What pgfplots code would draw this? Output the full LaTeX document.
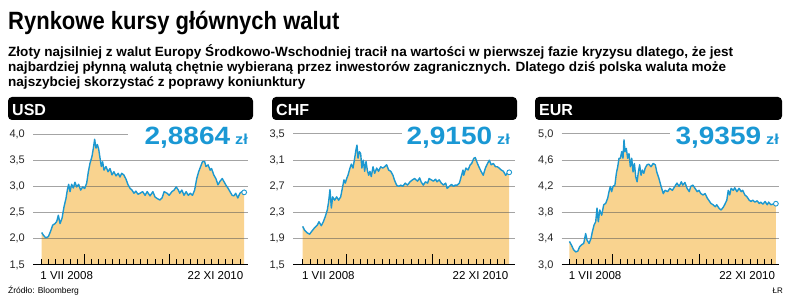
\documentclass[border=0pt]{standalone}
\usepackage{fontspec}
\setmainfont{Liberation Sans}
\newfontfamily\titlefont[FakeStretch=0.88]{Liberation Sans}
\newfontfamily\subfont[FakeStretch=1.01]{Liberation Sans}
\newfontfamily\numfont[FakeStretch=1.12]{Liberation Sans}
\usepackage{pgfplots}
\pgfplotsset{compat=1.18}
\usepackage{pgfplotstable}
\definecolor{lineblue}{RGB}{28,152,208}
\definecolor{fillor}{RGB}{249,211,143}
\definecolor{numblue}{RGB}{26,152,212}
\definecolor{gridc}{RGB}{90,90,90}

\pgfplotstableread{
m v
0 2.12
0.23 2.07
0.56 2.02
0.94 2.04
1.27 2.15
1.55 2.26
1.88 2.29
2.12 2.33
2.35 2.45
2.59 2.29
2.87 2.39
3.15 2.61
3.43 2.77
3.62 2.93
3.81 3.04
4.0 2.90
4.23 3.04
4.47 2.97
4.7 3.08
4.94 2.99
5.22 3.04
5.5 2.93
5.79 2.99
6.07 2.96
6.35 3.06
6.59 3.28
6.82 3.44
7.1 3.57
7.3 3.73
7.48 3.90
7.67 3.73
7.86 3.80
8.05 3.71
8.24 3.54
8.42 3.38
8.61 3.47
8.8 3.31
9.08 3.38
9.37 3.28
9.65 3.34
9.93 3.22
10.2 3.28
10.5 3.20
10.8 3.25
11.06 3.18
11.3 3.25
11.6 3.22
11.9 3.14
12.2 3.03
12.5 2.96
12.75 2.93
13.04 2.87
13.3 2.91
13.6 2.85
13.9 2.87
14.26 2.90
14.6 2.83
14.9 2.90
15.3 2.82
15.7 2.90
16.0 2.80
16.3 2.77
16.7 2.74
17.0 2.78
17.3 2.90
17.7 2.87
18.0 2.83
18.4 2.90
18.7 2.93
19.0 2.99
19.3 2.93
19.5 2.87
19.8 2.93
20.1 2.83
20.4 2.90
20.7 2.83
21.0 2.87
21.3 2.83
21.6 2.93
21.9 3.15
22.17 3.28
22.45 3.38
22.7 3.47
23.0 3.48
23.2 3.38
23.5 3.41
23.8 3.31
24.0 3.34
24.3 3.22
24.6 3.15
24.9 3.03
25.2 3.10
25.5 3.15
25.75 3.09
26.0 3.03
26.3 2.97
26.6 2.90
26.9 2.83
27.16 2.82
27.4 2.87
27.7 2.78
28.0 2.87
28.3 2.90
28.6 2.8864
}\usd

\pgfplotstableread{
m v
0 2.09
0.27 2.03
0.64 1.99
0.96 1.97
1.29 2.02
1.66 2.07
2.03 2.11
2.26 2.16
2.58 2.10
2.86 2.16
3.13 2.24
3.41 2.34
3.6 2.47
3.78 2.65
3.97 2.37
4.15 2.54
4.43 2.49
4.7 2.54
4.98 2.49
5.26 2.54
5.54 2.70
5.72 2.80
5.9 2.75
6.09 2.82
6.27 2.87
6.55 2.98
6.74 3.04
6.97 2.98
7.2 3.13
7.38 3.26
7.52 3.33
7.66 3.13
7.85 3.23
8.03 3.20
8.2 2.98
8.4 3.10
8.58 2.93
8.77 3.08
8.95 2.95
9.14 2.87
9.32 2.93
9.5 2.85
9.74 3.00
9.97 2.90
10.25 2.98
10.5 2.93
10.8 3.00
11.08 2.98
11.35 3.00
11.63 3.03
11.9 2.95
12.2 2.93
12.5 2.87
12.7 2.80
13.0 2.72
13.3 2.70
13.6 2.72
13.85 2.70
14.2 2.75
14.5 2.72
14.86 2.77
15.2 2.80
15.5 2.82
15.9 2.78
16.2 2.83
16.4 2.77
16.7 2.72
17.0 2.77
17.3 2.75
17.5 2.82
17.8 2.80
18.1 2.78
18.4 2.81
18.6 2.77
18.9 2.80
19.2 2.75
19.5 2.72
19.8 2.75
20.0 2.67
20.3 2.70
20.6 2.73
20.9 2.70
21.1 2.72
21.4 2.72
21.7 2.75
22.0 2.87
22.2 2.95
22.3 2.87
22.6 2.98
22.9 2.95
23.2 3.03
23.4 3.05
23.7 3.13
23.9 3.14
24.2 3.05
24.4 3.00
24.7 2.93
25.0 2.87
25.3 2.98
25.6 3.05
25.85 3.10
26.1 3.03
26.4 3.05
26.7 3.00
26.96 3.00
27.2 2.98
27.5 2.95
27.8 2.93
28.1 2.87
28.34 2.90
28.6 2.915
}\chf

\pgfplotstableread{
m v
0 3.36
0.3 3.30
0.59 3.23
0.87 3.20
1.15 3.21
1.42 3.28
1.7 3.31
1.98 3.33
2.25 3.48
2.44 3.38
2.72 3.33
3.0 3.41
3.18 3.51
3.41 3.61
3.64 3.66
3.82 3.87
4.0 3.66
4.2 3.84
4.47 3.76
4.75 3.92
5.02 3.94
5.3 4.02
5.48 4.12
5.67 4.20
5.85 4.12
6.04 4.20
6.3 4.22
6.5 4.40
6.69 4.50
6.87 4.63
7.06 4.63
7.24 4.73
7.42 4.63
7.56 4.91
7.7 4.73
7.88 4.78
8.07 4.63
8.25 4.70
8.44 4.50
8.63 4.63
8.81 4.42
9.0 4.55
9.18 4.35
9.37 4.27
9.55 4.42
9.73 4.53
9.92 4.37
10.1 4.45
10.3 4.40
10.5 4.48
10.75 4.53
11.0 4.54
11.3 4.50
11.6 4.55
11.9 4.53
12.1 4.42
12.4 4.32
12.7 4.20
13.0 4.09
13.24 4.14
13.6 4.12
13.9 4.17
14.26 4.14
14.6 4.20
14.9 4.25
15.2 4.20
15.5 4.27
15.7 4.22
16.0 4.26
16.3 4.17
16.6 4.12
16.8 4.20
17.1 4.22
17.4 4.17
17.7 4.12
17.95 4.14
18.2 4.09
18.5 4.07
18.8 4.09
19.1 4.02
19.3 3.99
19.6 3.94
19.9 3.92
20.2 3.89
20.4 3.92
20.7 3.87
21.0 3.84
21.3 3.88
21.5 3.92
21.8 3.99
22.0 4.14
22.2 4.07
22.4 4.17
22.7 4.14
22.9 4.18
23.2 4.12
23.5 4.17
23.8 4.12
24.0 4.14
24.3 4.07
24.6 4.04
24.9 3.99
25.15 3.97
25.4 3.99
25.7 3.96
26.0 3.98
26.3 3.94
26.5 3.96
26.8 3.93
27.1 3.97
27.4 3.92
27.6 3.96
27.9 3.92
28.2 3.93
28.6 3.9359
}\eur

\pgfplotsset{
  panel/.style={
    scale only axis, anchor=south west, axis on top, clip mode=individual,
    axis x line*=bottom, axis y line*=left,
    y axis line style={draw=none}, ytick style={draw=none},
    x axis line style={black, line width=1pt},
    tick align=inside,
    xtick={6,18}, minor xtick={0,...,28},
    major tick length=11pt, minor tick length=6pt,
    xtick style={black, line width=0.8pt},
    minor tick style={black, line width=0.8pt},
    xticklabel=\empty,
    scaled y ticks=false,
    yticklabel style={font=\fontsize{11}{11}\selectfont, inner sep=0pt, xshift=-8pt, text=black!85,
      /pgf/number format/.cd, use comma, fixed, fixed zerofill, precision=1, assume math mode=true},
  },
  fillp/.style={fill=fillor, draw=none},
  gridp/.style={gridc, opacity=0.55, line width=1pt},
  linep/.style={lineblue, line width=1.4pt, line join=round},
  endp/.style={only marks, mark=*, mark size=2.4pt, mark options={fill=white, draw=lineblue, line width=0.9pt}},
}
\newcommand\bignum[1]{{\numfont\bfseries\fontsize{25}{25}\selectfont #1\hspace{5pt}{\fontsize{14.5}{14.5}\selectfont zł}}}

\begin{document}
\begin{tikzpicture}[x=1pt,y=1pt]
\useasboundingbox (0,0) rectangle (788,-302);
\node[anchor=base west, inner sep=0pt] at (8,-30) {\titlefont\bfseries\fontsize{25}{25}\selectfont Rynkowe kursy głównych walut};
\node[anchor=base west, inner sep=0pt] at (8,-57) {\subfont\bfseries\fontsize{13.4}{13.4}\selectfont Złoty najsilniej z walut Europy Środkowo-Wschodniej tracił na wartości w pierwszej fazie kryzysu dlatego, że jest};
\node[anchor=base west, inner sep=0pt] at (8,-72) {\subfont\bfseries\fontsize{13.4}{13.4}\selectfont najbardziej płynną walutą chętnie wybieraną przez inwestorów zagranicznych. Dlatego dziś polska waluta może};
\node[anchor=base west, inner sep=0pt] at (8,-87) {\subfont\bfseries\fontsize{13.4}{13.4}\selectfont najszybciej skorzystać z poprawy koniunktury};

\fill[black, rounded corners=4pt] (8,-97) rectangle (253,-120);
\fill[black, rounded corners=4pt] (272,-97) rectangle (517,-120);
\fill[black, rounded corners=4pt] (535,-97) rectangle (782,-120);
\node[anchor=base west, inner sep=0pt, text=white] at (12,-115.5) {\bfseries\fontsize{16}{16}\selectfont USD};
\node[anchor=base west, inner sep=0pt, text=white] at (276,-115.5) {\bfseries\fontsize{16}{16}\selectfont CHF};
\node[anchor=base west, inner sep=0pt, text=white] at (539,-115.5) {\bfseries\fontsize{16}{16}\selectfont EUR};

% USD
\begin{axis}[panel, at={(33pt,-265pt)}, width=215pt, height=131pt,
  xmin=-1.229, xmax=29.14, ymin=1.5, ymax=4.0, ytick={1.5,2.0,2.5,3.0,3.5,4.0}]
\addplot[fillp] table[x=m,y=v]{\usd} \closedcycle;
\addplot[gridp] coordinates {(-1.229,2.0)(29.14,2.0)};
\addplot[gridp] coordinates {(-1.229,2.5)(29.14,2.5)};
\addplot[gridp] coordinates {(-1.229,3.0)(29.14,3.0)};
\addplot[gridp] coordinates {(-1.229,3.5)(29.14,3.5)};
\addplot[gridp] coordinates {(-1.229,4.0)(12.19,4.0)};
\addplot[linep] table[x=m,y=v]{\usd};
\addplot[endp] coordinates {(28.6,2.8864)};
\node[anchor=base west, inner sep=0pt, font=\fontsize{11.5}{11.5}\selectfont] at (axis cs:-0.2,1.5) [yshift=-15pt] {1 VII 2008};
\node[anchor=base east, inner sep=0pt, font=\fontsize{11.5}{11.5}\selectfont] at (axis cs:28.5,1.5) [yshift=-15pt] {22 XI 2010};
\end{axis}
\node[anchor=base east, inner sep=0pt, text=numblue] at (248,-145) {\bignum{2,8864}};

% CHF
\begin{axis}[panel, at={(293pt,-265pt)}, width=222pt, height=131pt,
  xmin=-1.34, xmax=29.4, ymin=1.5, ymax=3.5, ytick={1.5,1.9,2.3,2.7,3.1,3.5}]
\addplot[fillp] table[x=m,y=v]{\chf} \closedcycle;
\addplot[gridp] coordinates {(-1.34,1.9)(29.4,1.9)};
\addplot[gridp] coordinates {(-1.34,2.3)(29.4,2.3)};
\addplot[gridp] coordinates {(-1.34,2.7)(29.4,2.7)};
\addplot[gridp] coordinates {(-1.34,3.1)(29.4,3.1)};
\addplot[gridp] coordinates {(-1.34,3.5)(13.75,3.5)};
\addplot[linep] table[x=m,y=v]{\chf};
\addplot[endp] coordinates {(28.6,2.915)};
\node[anchor=base west, inner sep=0pt, font=\fontsize{11.5}{11.5}\selectfont] at (axis cs:-0.1,1.5) [yshift=-15pt] {1 VII 2008};
\node[anchor=base east, inner sep=0pt, font=\fontsize{11.5}{11.5}\selectfont] at (axis cs:28.5,1.5) [yshift=-15pt] {22 XI 2010};
\end{axis}
\node[anchor=base east, inner sep=0pt, text=numblue] at (510,-145) {\bignum{2,9150}};

% EUR
\begin{axis}[panel, at={(561.7pt,-265pt)}, width=217.3pt, height=131pt,
  xmin=-1.07, xmax=29.03, ymin=3.0, ymax=5.0, ytick={3.0,3.4,3.8,4.2,4.6,5.0}]
\addplot[fillp] table[x=m,y=v]{\eur} \closedcycle;
\addplot[gridp] coordinates {(-1.07,3.4)(29.03,3.4)};
\addplot[gridp] coordinates {(-1.07,3.8)(29.03,3.8)};
\addplot[gridp] coordinates {(-1.07,4.2)(29.03,4.2)};
\addplot[gridp] coordinates {(-1.07,4.6)(29.03,4.6)};
\addplot[gridp] coordinates {(-1.07,5.0)(13.93,5.0)};
\addplot[linep] table[x=m,y=v]{\eur};
\addplot[endp] coordinates {(28.6,3.9359)};
\node[anchor=base west, inner sep=0pt, font=\fontsize{11.5}{11.5}\selectfont] at (axis cs:-0.1,3.0) [yshift=-15pt] {1 VII 2008};
\node[anchor=base east, inner sep=0pt, font=\fontsize{11.5}{11.5}\selectfont] at (axis cs:28.5,3.0) [yshift=-15pt] {22 XI 2010};
\end{axis}
\node[anchor=base east, inner sep=0pt, text=numblue] at (779,-145) {\bignum{3,9359}};

\node[anchor=base west, inner sep=0pt, font=\fontsize{8.5}{8.5}\selectfont] at (8,-294) {Źródło: Bloomberg};
\node[anchor=base east, inner sep=0pt, font=\fontsize{8}{8}\selectfont] at (783,-294) {ŁR};
\end{tikzpicture}
\end{document}
